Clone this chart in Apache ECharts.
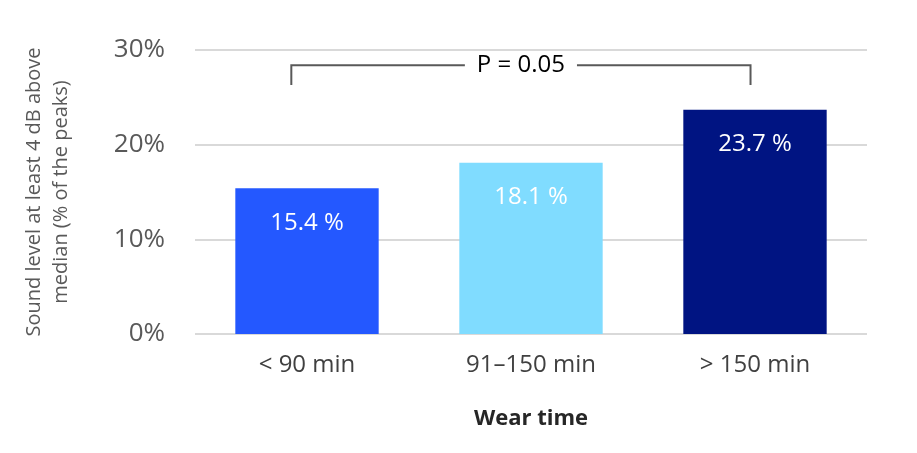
<!DOCTYPE html>
<html>
<head>
<meta charset="utf-8">
<script src="https://cdn.jsdelivr.net/npm/echarts@6/dist/echarts.min.js"></script>
<style>
  html, body { margin: 0; padding: 0; background: #fff; }
  #chart { width: 917px; height: 453px; }
</style>
</head>
<body>
<div id="chart"></div>
<script>
// wear time groups and share of peaks (%)
const categories = ['< 90 min', '91\u2013150 min', '> 150 min'];
const values = [15.4, 18.1, 23.7];
const barColors = ['#2458ff', '#80dcff', '#001482'];

// significance bracket: [from index, to index, top %, leg end %, label]
const bracket = [[0, 2, 28.4, 26.3, 'P = 0.05']];

const chart = echarts.init(document.getElementById('chart'));

const font = '"Open Sans", sans-serif';

const option = {
    animation: false,
    grid: { left: 195, right: 50, top: 50, bottom: 119 },
    xAxis: {
        type: 'category',
        data: categories,
        axisLine: { show: false },
        axisTick: { show: false },
        axisLabel: { color: '#404040', fontSize: 24, fontFamily: font, margin: 19 },
        name: 'Wear time',
        nameLocation: 'middle',
        nameGap: 74,
        nameTextStyle: { color: '#262626', fontSize: 22, fontWeight: 'bold', fontFamily: font }
    },
    yAxis: {
        type: 'value',
        min: 0, max: 30, interval: 10,
        axisLabel: {
            formatter: '{value}%',
            color: '#595959', fontSize: 26, fontFamily: font, margin: 30
        },
        splitLine: { lineStyle: { color: '#d9d9d9', width: 2 } },
        name: 'Sound level at least 4 dB above\nmedian (% of the peaks)',
        nameLocation: 'middle',
        nameGap: 120,
        nameTextStyle: { color: '#595959', fontSize: 20, fontFamily: font, lineHeight: 27 }
    },
    series: [
        {
            type: 'bar',
            barWidth: '64%',
            data: values.map((v, i) => ({ value: v, itemStyle: { color: barColors[i] } })),
            label: {
                show: true,
                position: 'insideTop',
                distance: 23,
                color: '#fff',
                fontSize: 24,
                fontFamily: font,
                formatter: (p) => p.value.toFixed(1) + ' %'
            }
        },
        {
            type: 'custom',
            silent: true,
            data: bracket,
            renderItem: function (params, api) {
                const step = api.size([1, 0])[0];
                const x1 = api.coord([api.value(0), 0])[0] - step * 0.07;
                const x2 = api.coord([api.value(1), 0])[0] - step * 0.02;
                const yTop = api.coord([0, api.value(2)])[1];
                const yEnd = api.coord([0, api.value(3)])[1];
                const style = { stroke: '#595959', lineWidth: 2, fill: 'none' };
                return {
                    type: 'group',
                    children: [
                        {
                            type: 'polyline',
                            shape: { points: [[x1, yEnd], [x1, yTop], [x2, yTop], [x2, yEnd]] },
                            style: style
                        },
                        {
                            type: 'text',
                            x: (x1 + x2) / 2,
                            y: yTop,
                            style: {
                                text: bracket[params.dataIndex][4],
                                fill: '#000',
                                font: '24px ' + font,
                                align: 'center',
                                verticalAlign: 'middle',
                                backgroundColor: '#fff',
                                padding: [2, 12]
                            }
                        }
                    ]
                };
            }
        }
    ]
};

chart.setOption(option);
</script>
</body>
</html>
